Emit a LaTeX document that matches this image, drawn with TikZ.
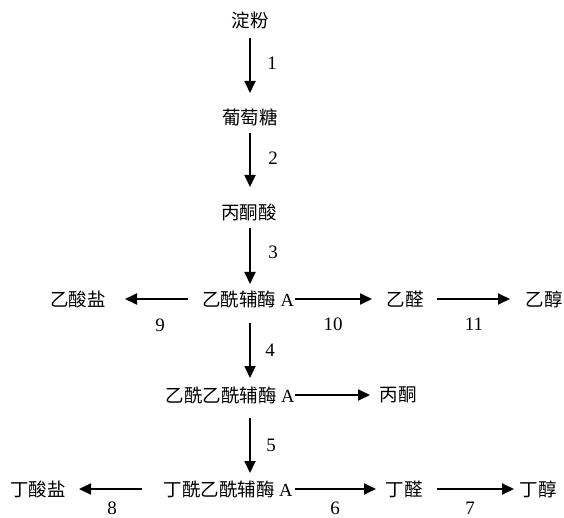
\documentclass[tikz,border=0pt]{standalone}
\usepackage{fontspec}
\setmainfont{Liberation Serif}
\newfontfamily\cjk{Noto Sans CJK SC}
\usetikzlibrary{arrows.meta}
\tikzset{
  lbl/.style={inner sep=0pt, font=\fontsize{18.5}{20}\selectfont},
  num/.style={inner sep=0pt, font=\fontsize{19}{21}\selectfont},
  arr/.style={line width=1.8pt, -{Triangle[length=12pt,width=11pt]}}
}
\begin{document}
\begin{tikzpicture}[x=1pt,y=-1pt]
\useasboundingbox (0,0) rectangle (564,518);
% nodes
\node[lbl] (dianfen) at (250,20) {\cjk 淀粉};
\node[lbl] (putao) at (250,117) {\cjk 葡萄糖};
\node[lbl] (bingtongsuan) at (249,212) {\cjk 丙酮酸};
\node[lbl] (yxfm) at (248,299) {{\cjk 乙酰辅酶} A};
\node[lbl] (yisuanyan) at (78,299) {\cjk 乙酸盐};
\node[lbl] (yiquan) at (405,299) {\cjk 乙醛};
\node[lbl] (yichun) at (544,299) {\cjk 乙醇};
\node[lbl] (yyfm) at (230,395) {{\cjk 乙酰乙酰辅酶} A};
\node[lbl] (bingtong) at (398,395) {\cjk 丙酮};
\node[lbl] (dyfm) at (228,489) {{\cjk 丁酰乙酰辅酶} A};
\node[lbl] (dingsuanyan) at (38,489) {\cjk 丁酸盐};
\node[lbl] (dingquan) at (404,489) {\cjk 丁醛};
\node[lbl] (dingchun) at (538,489) {\cjk 丁醇};
% labels
\node[num] (n1) at (272,63) {1};
\node[num] (n2) at (273,158) {2};
\node[num] (n3) at (273,252) {3};
\node[num] (n4) at (270,350) {4};
\node[num] (n5) at (271,445) {5};
\node[num] (n9) at (160,325) {9};
\node[num] (n10) at (333,324) {10};
\node[num] (n11) at (474,324) {11};
\node[num] (n8) at (112,508) {8};
\node[num] (n6) at (335,508) {6};
\node[num] (n7) at (470,508) {7};
% vertical arrows
\draw[arr] ([yshift=-18pt]dianfen.center) -- ([yshift=24pt]putao.center);
\draw[arr] ([yshift=-16pt]putao.center) -- ([xshift=1pt,yshift=25pt]bingtongsuan.center);
\draw[arr] ([xshift=1pt,yshift=-16pt]bingtongsuan.center) -- ([xshift=2pt,yshift=15pt]yxfm.center);
\draw[arr] ([xshift=2pt,yshift=-24pt]yxfm.center) -- ([xshift=20pt,yshift=17pt]yyfm.center);
\draw[arr] ([xshift=20pt,yshift=-23pt]yyfm.center) -- ([xshift=22pt,yshift=16pt]dyfm.center);
% horizontal arrows
\draw[arr] ([xshift=-60pt]yxfm.center) -- ([xshift=47pt]yisuanyan.center);
\draw[arr] ([xshift=47pt]yxfm.center) -- ([xshift=-33pt]yiquan.center);
\draw[arr] ([xshift=32pt]yiquan.center) -- ([xshift=-34pt]yichun.center);
\draw[arr] ([xshift=65pt]yyfm.center) -- ([xshift=-28pt]bingtong.center);
\draw[arr] ([xshift=-86pt]dyfm.center) -- ([xshift=41pt]dingsuanyan.center);
\draw[arr] ([xshift=67pt]dyfm.center) -- ([xshift=-28pt]dingquan.center);
\draw[arr] ([xshift=33pt]dingquan.center) -- ([xshift=-24pt]dingchun.center);
\end{tikzpicture}
\end{document}
